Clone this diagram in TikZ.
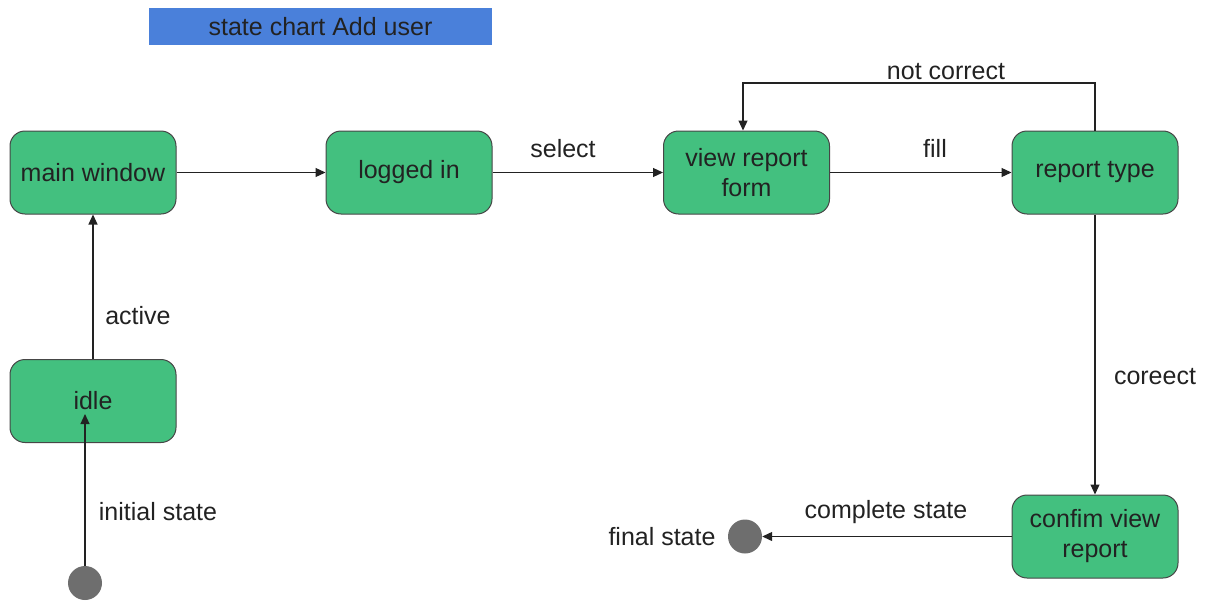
\documentclass[tikz,border=0pt]{standalone}
\usepackage{fontspec}
\setmainfont{Liberation Sans}
\usetikzlibrary{arrows.meta}
\definecolor{stategreen}{RGB}{67,192,127}
\definecolor{stateedge}{RGB}{70,70,70}
\definecolor{titleblue}{RGB}{74,128,218}
\definecolor{inkgray}{RGB}{34,34,34}
\definecolor{dotgray}{RGB}{110,110,110}
\tikzset{
  statebox/.style={draw=stateedge, line width=1pt, fill=stategreen, rounded corners=15pt,
    minimum width=166pt, minimum height=83pt, align=center, inner sep=2pt,
    text=inkgray, font=\fontsize{25}{30}\selectfont},
  pseudo/.style={circle, fill=dotgray, minimum size=34pt, inner sep=0pt},
  lbl/.style={text=inkgray, font=\fontsize{25}{30}\selectfont, inner sep=0pt},
  trans/.style={draw=inkgray, line width=1.2pt, -{Triangle[length=10pt,width=9pt]}}
}
\begin{document}
\begin{tikzpicture}[x=1pt,y=-1pt]
\useasboundingbox (0,0) rectangle (1207,605);
% title
\node[fill=titleblue, minimum width=343pt, minimum height=37pt, inner sep=0pt,
      text=inkgray, font=\fontsize{25}{30}\selectfont] (title) at (320.5,26.5) {state chart Add user};
% states
\node[statebox] (main) at (93,172.5) {main window};
\node[statebox] (logged) at (409,172.5) {logged in};
\node[statebox] (form) at (746.5,172.5) {view report\\form};
\node[statebox] (rtype) at (1095,172.5) {report type};
\node[statebox] (idle) at (93,401) {idle};
\node[statebox] (confirm) at (1095,536.5) {confim view\\report};
% pseudo states
\node[pseudo] (init) at (85,583) {};
\node[pseudo] (final) at (745,536.5) {};
% helper points
\coordinate (idlein) at (85,414);
\coordinate (loopR) at (1095,83);
\coordinate (loopL) at (743,83);
% transitions
\draw[trans] (main.east) -- (logged.west);
\draw[trans] (logged.east) -- (form.west);
\draw[trans] (form.east) -- (rtype.west);
\draw[trans] (rtype.north) -- (loopR) -- (loopL) -- (form.north -| loopL);
\draw[trans] (rtype.south) -- (confirm.north);
\draw[trans] (confirm.west) -- (final.east);
\draw[trans] (idle.north) -- (main.south);
\draw[trans] (init.north) -- (idlein);
% labels
\node[lbl] (lselect) at (563,149) {select};
\node[lbl] (lfill) at (935,148) {fill};
\node[lbl] (lnot) at (946,72) {not correct};
\node[lbl] (lactive) at (138,316) {active};
\node[lbl] (linit) at (158,512) {initial state};
\node[lbl] (lcor) at (1155,377) {coreect};
\node[lbl] (lcomp) at (886,512) {complete state};
\node[lbl] (lfinal) at (662,537) {final state};
\end{tikzpicture}
\end{document}
